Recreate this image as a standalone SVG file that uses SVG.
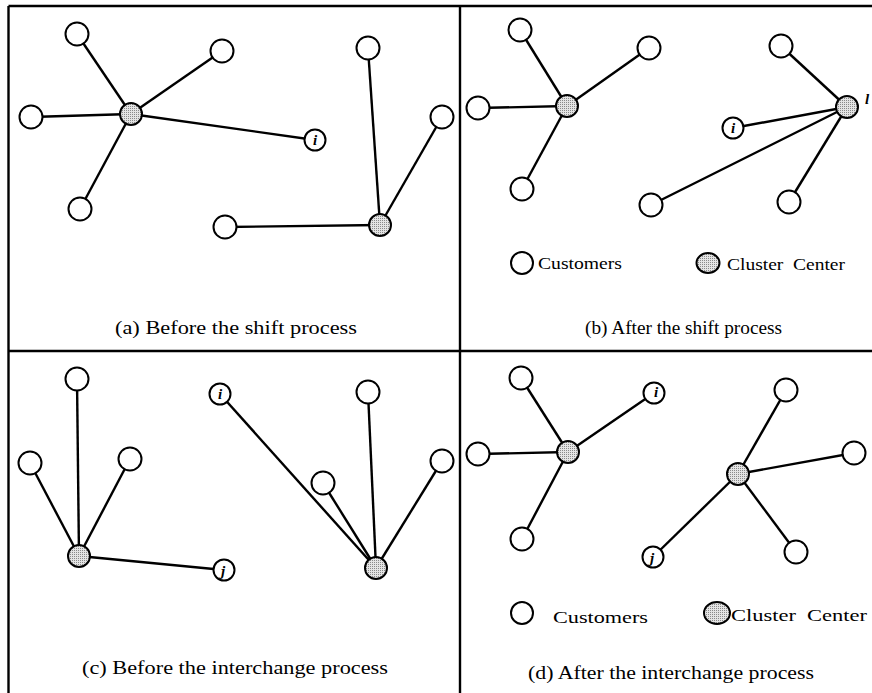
<svg xmlns="http://www.w3.org/2000/svg" width="872" height="693" viewBox="0 0 872 693">
<style>
.frame{stroke:#000;stroke-width:2.4;fill:none}
.edge{stroke:#000;stroke-width:2.4;fill:none}
.cust{fill:#fff;stroke:#000;stroke-width:2}
.ctr{fill:url(#stip);stroke:#000;stroke-width:2}
.lab{font-family:"Liberation Serif","Times New Roman",serif;font-style:italic;font-weight:bold;font-size:15px;text-anchor:middle}
.cap{font-family:"Liberation Serif","Times New Roman",serif;font-size:18px;fill:#000}
.leg{font-family:"Liberation Serif","Times New Roman",serif;font-size:16px;fill:#000;white-space:pre}
</style>
<defs>
<pattern id="stip" width="2" height="2" patternUnits="userSpaceOnUse">
<rect width="2" height="2" fill="#e4e4e4"/>
<rect width="1" height="1" fill="#8a8a8a"/>
</pattern>
</defs>
<rect width="872" height="693" fill="#fff"/>
<g id="frame">
<line class="frame" x1="8.5" y1="6" x2="872" y2="6"/>
<line class="frame" x1="8.5" y1="6" x2="8.5" y2="693"/>
<line class="frame" x1="460" y1="6" x2="460" y2="693"/>
<line class="frame" x1="8.5" y1="351" x2="872" y2="351"/>
</g>
<g id="connectors">
<!-- panel a -->
<line class="edge" x1="131" y1="114" x2="77" y2="34"/>
<line class="edge" x1="131" y1="114" x2="222" y2="51"/>
<line class="edge" x1="131" y1="114" x2="31" y2="117"/>
<line class="edge" x1="131" y1="114" x2="80" y2="209"/>
<line class="edge" x1="131" y1="114" x2="315" y2="140"/>
<line class="edge" x1="380" y1="225" x2="368" y2="48"/>
<line class="edge" x1="380" y1="225" x2="442" y2="117"/>
<line class="edge" x1="380" y1="225" x2="225" y2="227"/>
<!-- panel b -->
<line class="edge" x1="567" y1="106" x2="520" y2="30"/>
<line class="edge" x1="567" y1="106" x2="649" y2="48"/>
<line class="edge" x1="567" y1="106" x2="478" y2="108"/>
<line class="edge" x1="567" y1="106" x2="522" y2="189"/>
<line class="edge" x1="847" y1="107" x2="781" y2="46"/>
<line class="edge" x1="847" y1="107" x2="733" y2="128"/>
<line class="edge" x1="847" y1="107" x2="651" y2="205"/>
<line class="edge" x1="847" y1="107" x2="789" y2="202"/>
<!-- panel c -->
<line class="edge" x1="79" y1="556" x2="77" y2="379"/>
<line class="edge" x1="79" y1="556" x2="30" y2="463"/>
<line class="edge" x1="79" y1="556" x2="130" y2="459"/>
<line class="edge" x1="79" y1="556" x2="224" y2="570"/>
<line class="edge" x1="376" y1="568" x2="220" y2="394"/>
<line class="edge" x1="376" y1="568" x2="368" y2="392"/>
<line class="edge" x1="376" y1="568" x2="323" y2="483"/>
<line class="edge" x1="376" y1="568" x2="442" y2="461"/>
<!-- panel d -->
<line class="edge" x1="568" y1="452" x2="521" y2="378"/>
<line class="edge" x1="568" y1="452" x2="654" y2="393"/>
<line class="edge" x1="568" y1="452" x2="478" y2="454"/>
<line class="edge" x1="568" y1="452" x2="522" y2="539"/>
<line class="edge" x1="738" y1="474" x2="786" y2="390"/>
<line class="edge" x1="738" y1="474" x2="854" y2="453"/>
<line class="edge" x1="738" y1="474" x2="653" y2="557"/>
<line class="edge" x1="738" y1="474" x2="796" y2="552"/>
</g>
<!-- panel a nodes -->
<g id="a-center1"><circle class="ctr" cx="131" cy="114" r="11"/></g>
<g id="a-c1"><circle class="cust" cx="77" cy="34" r="11.5"/></g>
<g id="a-c2"><circle class="cust" cx="222" cy="51" r="11.5"/></g>
<g id="a-c3"><circle class="cust" cx="31" cy="117" r="11.5"/></g>
<g id="a-c4"><circle class="cust" cx="80" cy="209" r="11.5"/></g>
<g id="a-i"><circle class="cust" cx="315" cy="140" r="10.5"/><text class="lab" x="315" y="145">i</text></g>
<g id="a-center2"><circle class="ctr" cx="380" cy="225" r="11"/></g>
<g id="a-c5"><circle class="cust" cx="368" cy="48" r="11.5"/></g>
<g id="a-c6"><circle class="cust" cx="442" cy="117" r="11.5"/></g>
<g id="a-c7"><circle class="cust" cx="225" cy="227" r="11.5"/></g>
<g id="a-caption"><text class="cap" x="115" y="334" textLength="242" lengthAdjust="spacingAndGlyphs">(a) Before the shift process</text></g>
<!-- panel b nodes -->
<g id="b-center1"><circle class="ctr" cx="567" cy="106" r="11"/></g>
<g id="b-c1"><circle class="cust" cx="520" cy="30" r="11.5"/></g>
<g id="b-c2"><circle class="cust" cx="649" cy="48" r="11.5"/></g>
<g id="b-c3"><circle class="cust" cx="478" cy="108" r="11.5"/></g>
<g id="b-c4"><circle class="cust" cx="522" cy="189" r="11.5"/></g>
<g id="b-center2"><circle class="ctr" cx="847" cy="107" r="11"/><text class="lab" x="867" y="104">l</text></g>
<g id="b-c5"><circle class="cust" cx="781" cy="46" r="11.5"/></g>
<g id="b-i"><circle class="cust" cx="733" cy="128" r="10.5"/><text class="lab" x="733" y="133">i</text></g>
<g id="b-c6"><circle class="cust" cx="651" cy="205" r="11.5"/></g>
<g id="b-c7"><circle class="cust" cx="789" cy="202" r="11.5"/></g>
<g id="b-legend">
<circle class="cust" cx="522" cy="263" r="11"/>
<text class="leg" x="538" y="269" textLength="84" lengthAdjust="spacingAndGlyphs">Customers</text>
<ellipse class="ctr" cx="708" cy="263" rx="11.5" ry="10"/>
<text class="leg" x="727" y="270" textLength="118" lengthAdjust="spacingAndGlyphs">Cluster  Center</text>
</g>
<g id="b-caption"><text class="cap" x="585" y="334" textLength="197" lengthAdjust="spacingAndGlyphs">(b) After the shift process</text></g>
<!-- panel c nodes -->
<g id="c-center1"><circle class="ctr" cx="79" cy="556" r="11"/></g>
<g id="c-c1"><circle class="cust" cx="77" cy="379" r="11.5"/></g>
<g id="c-c2"><circle class="cust" cx="30" cy="463" r="11.5"/></g>
<g id="c-c3"><circle class="cust" cx="130" cy="459" r="11.5"/></g>
<g id="c-j"><circle class="cust" cx="224" cy="570" r="10.5"/><text class="lab" x="223" y="576">j</text></g>
<g id="c-i"><circle class="cust" cx="220" cy="394" r="10.5"/><text class="lab" x="220" y="399">i</text></g>
<g id="c-center2"><circle class="ctr" cx="376" cy="568" r="11"/></g>
<g id="c-c4"><circle class="cust" cx="368" cy="392" r="11.5"/></g>
<g id="c-c5"><circle class="cust" cx="323" cy="483" r="11.5"/></g>
<g id="c-c6"><circle class="cust" cx="442" cy="461" r="11.5"/></g>
<g id="c-caption"><text class="cap" x="82" y="674" textLength="306" lengthAdjust="spacingAndGlyphs">(c) Before the interchange process</text></g>
<!-- panel d nodes -->
<g id="d-center1"><circle class="ctr" cx="568" cy="452" r="11"/></g>
<g id="d-c1"><circle class="cust" cx="521" cy="378" r="11.5"/></g>
<g id="d-i"><circle class="cust" cx="654" cy="393" r="10.5"/><text class="lab" x="656" y="397">i</text></g>
<g id="d-c2"><circle class="cust" cx="478" cy="454" r="11.5"/></g>
<g id="d-c3"><circle class="cust" cx="522" cy="539" r="11.5"/></g>
<g id="d-center2"><circle class="ctr" cx="738" cy="474" r="11"/></g>
<g id="d-c4"><circle class="cust" cx="786" cy="390" r="11.5"/></g>
<g id="d-c5"><circle class="cust" cx="854" cy="453" r="11.5"/></g>
<g id="d-j"><circle class="cust" cx="653" cy="557" r="10.5"/><text class="lab" x="652" y="563">j</text></g>
<g id="d-c6"><circle class="cust" cx="796" cy="552" r="11.5"/></g>
<g id="d-legend">
<circle class="cust" cx="522" cy="613" r="11"/>
<text class="leg" x="553" y="623" textLength="95" lengthAdjust="spacingAndGlyphs">Customers</text>
<ellipse class="ctr" cx="717" cy="613" rx="13" ry="11"/>
<text class="leg" x="731" y="621" textLength="136" lengthAdjust="spacingAndGlyphs">Cluster  Center</text>
</g>
<g id="d-caption"><text class="cap" x="528" y="679" textLength="286" lengthAdjust="spacingAndGlyphs">(d) After the interchange process</text></g>
</svg>
